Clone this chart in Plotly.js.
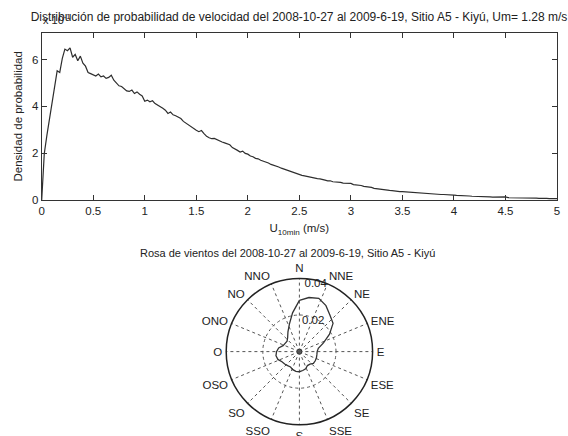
<!DOCTYPE html>
<html>
<head>
<meta charset="utf-8">
<script src="https://cdn.plot.ly/plotly-3.0.1.min.js"></script>
<style>html,body{margin:0;padding:0;background:#fff;}#chart{width:568px;height:436px;}</style>
</head>
<body>
<div id="chart"></div>
<script>
// ---------- Data: probability density of 10-min wind speed ----------
const speed = [
 0.000,0.025,0.050,0.075,0.100,0.125,0.150,0.175,0.200,0.225,0.250,0.275,0.300,0.325,0.350,0.375,0.400,0.425,0.450,0.475,
 0.500,0.525,0.550,0.575,0.600,0.625,0.650,0.675,0.700,0.725,0.750,0.775,0.800,0.825,0.850,0.875,0.900,0.925,0.950,0.975,
 1.000,1.025,1.050,1.075,1.100,1.125,1.150,1.175,1.200,1.225,1.250,1.275,1.300,1.325,1.350,1.375,1.400,1.425,1.450,1.475,
 1.500,1.525,1.550,1.575,1.600,1.625,1.650,1.675,1.700,1.725,1.750,1.775,1.800,1.825,1.850,1.875,1.900,1.925,1.950,1.975,
 2.000,2.025,2.050,2.075,2.100,2.125,2.150,2.175,2.200,2.225,2.250,2.275,2.300,2.325,2.350,2.375,2.400,2.425,2.450,2.475,
 2.500,2.525,2.550,2.575,2.600,2.625,2.650,2.675,2.700,2.725,2.750,2.775,2.800,2.825,2.850,2.875,2.900,2.925,2.950,2.975,
 3.000,3.025,3.050,3.075,3.100,3.125,3.150,3.175,3.200,3.225,3.250,3.275,3.300,3.325,3.350,3.375,3.400,3.425,3.450,3.475,
 3.500,3.525,3.550,3.575,3.600,3.625,3.650,3.675,3.700,3.725,3.750,3.775,3.800,3.825,3.850,3.875,3.900,3.925,3.950,3.975,
 4.000,4.025,4.050,4.075,4.100,4.125,4.150,4.175,4.200,4.225,4.250,4.275,4.300,4.325,4.350,4.375,4.400,4.425,4.450,4.475,
 4.500,4.525,4.550,4.575,4.600,4.625,4.650,4.675,4.700,4.725,4.750,4.775,4.800,4.825,4.850,4.875,4.900,4.925,4.950,4.975,
 5.000
];
const density = [
 0.00,1.98,2.75,3.45,4.05,4.85,5.52,5.45,6.05,6.45,6.38,6.50,6.10,6.22,5.95,6.15,5.85,5.72,5.45,5.40,
 5.36,5.30,5.38,5.26,5.30,5.20,5.24,5.33,5.12,5.02,4.88,4.85,4.76,4.66,4.64,4.70,4.55,4.62,4.52,4.45,
 4.22,4.27,4.20,4.24,4.12,4.06,3.98,3.92,3.84,3.70,3.76,3.64,3.60,3.54,3.48,3.36,3.28,3.19,3.13,3.06,
 2.98,2.92,2.97,2.84,2.72,2.66,2.62,2.63,2.57,2.53,2.48,2.44,2.40,2.36,2.24,2.19,2.12,2.05,2.09,1.99,
 1.96,1.88,1.85,1.78,1.76,1.70,1.67,1.61,1.58,1.52,1.49,1.44,1.41,1.36,1.32,1.28,1.24,1.19,1.17,1.12,
 1.10,1.05,1.03,1.00,0.98,0.95,0.93,0.91,0.90,0.86,0.85,0.82,0.82,0.78,0.78,0.75,0.75,0.72,0.72,0.69,
 0.71,0.66,0.65,0.62,0.62,0.58,0.57,0.54,0.54,0.50,0.48,0.46,0.45,0.43,0.43,0.41,0.40,0.38,0.38,0.36,
 0.36,0.35,0.345,0.33,0.33,0.31,0.305,0.29,0.285,0.275,0.275,0.26,0.26,0.25,0.245,0.235,0.235,0.22,0.22,0.21,
 0.205,0.195,0.195,0.18,0.18,0.17,0.17,0.16,0.16,0.15,0.15,0.14,0.14,0.13,0.13,0.12,0.125,0.115,0.12,0.11,
 0.13,0.105,0.105,0.095,0.095,0.09,0.09,0.085,0.09,0.08,0.085,0.075,0.08,0.07,0.08,0.065,0.07,0.06,0.065,0.06,
 0.055
];
const xTicks = [0,0.5,1,1.5,2,2.5,3,3.5,4,4.5,5];
const xTickLabels = ['0','0.5','1','1.5','2','2.5','3','3.5','4','4.5','5'];
const yTicks = [0,2,4,6];
const yTickLabels = ['0','2','4','6'];

// ---------- Data: wind rose (frequency by direction, 10° bins) ----------
const roseDir = [0,10,20,30,40,50,60,70,80,90,100,110,120,130,140,150,160,170,
                 180,190,200,210,220,230,240,250,260,270,280,290,300,310,320,330,340,350];
const roseFreq = [0.028,0.030,0.031,0.029,0.026,0.024,0.019,0.014,0.0105,0.0097,0.0097,0.0099,0.0100,0.0100,0.0090,0.0088,0.0100,0.0105,
                  0.0110,0.0110,0.0105,0.0097,0.0100,0.0105,0.0110,0.0125,0.0130,0.0125,0.0115,0.0095,0.0090,0.0088,0.0100,0.0125,0.0160,0.0215];
const compassAngles = [0,22.5,45,67.5,90,112.5,135,157.5,180,202.5,225,247.5,270,292.5,315,337.5];
const compassLabels = ['N','NNE','NE','ENE','E','ESE','SE','SSE','S','SSO','SO','OSO','O','ONO','NO','NNO'];
const ringValues = [0.02];
const ringLabelValues = [0.02, 0.04];
const ringLabels = ['0.02','0.04'];

const titleTop = 'Distribución de probabilidad de velocidad del 2008-10-27 al 2009-6-19, Sitio A5 - Kiyú, Um= 1.28 m/s';
const titleRose = 'Rosa de vientos del 2008-10-27 al 2009-6-19, Sitio A5 - Kiyú';
const yTitle = 'Densidad de probabilidad';
const xTitle = 'U<sub>10min</sub> (m/s)';
const expLabel = 'x 10<sup>-1</sup>';

const ink = '#222';
const W = 568, H = 436;
const px = v => v / W, py = v => 1 - v / H;

const traces = [
  { type:'scatter', mode:'lines', x:speed, y:density, xaxis:'x', yaxis:'y',
    line:{color:'#2e2e2e', width:1.2}, hoverinfo:'skip' },
  { type:'scatterpolar', mode:'lines', subplot:'polar',
    r: roseFreq.concat([roseFreq[0]]), theta: roseDir.concat([roseDir[0]]),
    line:{color:'#333', width:1.3}, hoverinfo:'skip' },
  { type:'scatterpolar', mode:'markers', subplot:'polar', r:[0], theta:[0],
    marker:{symbol:'circle-open', size:5, color:'#333', line:{width:1}}, hoverinfo:'skip' },
  { type:'scatterpolar', mode:'text', subplot:'polar',
    r: ringLabelValues, theta: ringLabelValues.map(() => 4),
    text: ringLabels, textposition:'bottom right',
    textfont:{size:11.5, color:ink}, hoverinfo:'skip' }
];

const layout = {
  width:W, height:H, margin:{l:0,r:0,t:0,b:0},
  paper_bgcolor:'#fff', plot_bgcolor:'#fff', showlegend:false,
  font:{family:'Liberation Sans, Arial, sans-serif', size:11.5, color:ink},
  title:{text:titleTop, x:px(299), xanchor:'center', y:py(17), yanchor:'middle',
         font:{size:12, color:ink}},
  xaxis:{domain:[px(41.7), px(557)], anchor:'y', range:[0,5],
         tickmode:'array', tickvals:xTicks, ticktext:xTickLabels,
         ticks:'inside', ticklen:5, tickcolor:'#333',
         showline:true, linecolor:'#333', linewidth:1, mirror:'ticks',
         showgrid:false, zeroline:false,
         title:{text:xTitle, standoff:8, font:{size:11.5}}},
  yaxis:{domain:[py(200), py(32.7)], anchor:'x', range:[0,7.15],
         tickmode:'array', tickvals:yTicks, ticktext:yTickLabels,
         ticks:'inside', ticklen:5, tickcolor:'#333',
         showline:true, linecolor:'#333', linewidth:1, mirror:'ticks',
         showgrid:false, zeroline:false,
         title:{text:yTitle, standoff:6, font:{size:11.5}}},
  polar:{
    domain:{x:[px(226.2), px(372.6)], y:[py(424.8), py(278.4)]},
    bgcolor:'#fff',
    angularaxis:{rotation:90, direction:'clockwise',
      tickmode:'array', tickvals:compassAngles, ticktext:compassLabels,
      showline:true, linecolor:'#222', linewidth:1.5,
      showgrid:true, gridcolor:'#555', griddash:'dot', gridwidth:1,
      ticks:'outside', ticklen:1, tickcolor:'rgba(0,0,0,0)',
      tickfont:{size:11.5, color:ink}},
    radialaxis:{range:[0,0.04], tickmode:'array', tickvals:ringValues,
      showticklabels:false, ticks:'', showline:false,
      showgrid:true, gridcolor:'#555', griddash:'dot', gridwidth:1}
  },
  annotations:[
    {text:titleRose, xref:'paper', yref:'paper', x:px(287), y:py(253),
     xanchor:'center', yanchor:'middle', showarrow:false, font:{size:11, color:ink}},
    {text:expLabel, xref:'paper', yref:'paper', x:px(41), y:py(28),
     xanchor:'left', yanchor:'bottom', showarrow:false, font:{size:11, color:ink}}
  ]
};

Plotly.newPlot('chart', traces, layout, {displayModeBar:false, staticPlot:true});
</script>
</body>
</html>
